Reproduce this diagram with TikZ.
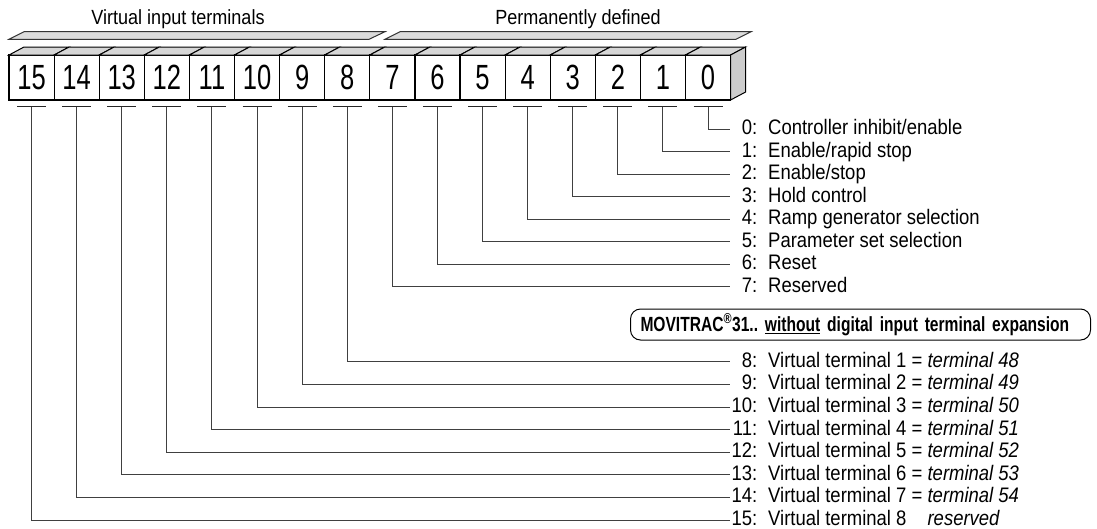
\documentclass[tikz,border=0pt]{standalone}
\usepackage{fontspec}
\newfontfamily\txtfont{Liberation Sans}[FakeStretch=0.88]
\newfontfamily\digfont{Liberation Sans}[FakeStretch=0.73]
\newfontfamily\boldfont{Liberation Sans}[FakeStretch=0.76]
\frenchspacing
\begin{document}
\begin{tikzpicture}[x=1pt,y=-1pt,line join=miter,
  bitbox/.style={draw=black,line width=1.2pt,fill=white,minimum width=45.1pt,
    minimum height=45pt,inner sep=0pt,outer sep=0pt,
    font=\digfont\fontsize{35pt}{35pt}\selectfont},
  topface/.style={draw=black,line width=1pt,fill=black!16},
  sideface/.style={draw=black,line width=1pt,fill=black!20},
  banner/.style={draw=black!80,line width=1pt,fill=black!14},
  stubline/.style={draw=black!85,line width=1.1pt},
  lead/.style={draw=black!75,line width=1pt},
  title/.style={font=\txtfont\fontsize{20.5pt}{22pt}\selectfont,inner sep=0pt,anchor=base},
  lab/.style={font=\txtfont\fontsize{21pt}{22pt}\selectfont,inner sep=0pt,anchor=base west},
  infobox/.style={draw=black,line width=1pt,rounded corners=10pt,anchor=west,
    minimum height=31pt,inner xsep=10pt,inner ysep=0pt,text width=440pt,align=left,
    font=\boldfont\bfseries\fontsize{20.5pt}{22pt}\selectfont}]
\useasboundingbox (0,0) rectangle (1097,528);

% group banners and their headings
\filldraw[banner] (9,39.3) -- (24,31.7) -- (385,31.7) -- (369,39.3) -- cycle;
\filldraw[banner] (385,39.3) -- (400,31.7) -- (751,31.7) -- (736,39.3) -- cycle;
\node[title] (hvirt) at (178,24) {Virtual input terminals};
\node[title] (hperm) at (578,24) {Permanently defined};

% the sixteen bit cells, bit 15 on the left
\foreach \k [evaluate=\k as \bit using int(15-\k)] in {0,...,15} {
  \node[bitbox] (b\bit) at ({9+45.1*\k+22.55},77.5) {\bit};
  \filldraw[topface] (b\bit.north west) -- ++(15,-8)
    -- ([shift={(15,-8)}]b\bit.north east) -- (b\bit.north east) -- cycle;
}
\filldraw[sideface] (b0.north east) -- ++(15,-8) -- ++(0,45) -- (b0.south east) -- cycle;

% row ends of the leader lines
\foreach \b/\y in {0/129.3,1/151.7,2/174.2,3/196.7,4/219.2,5/241.7,6/264.2,7/286.7,
                   8/361.8,9/384.4,10/407.0,11/429.6,12/452.2,13/474.8,14/497.4,15/520.0} {
  \coordinate (e\b) at (730,\y);
  \draw[stubline] ([xshift=-14.5pt,yshift=-6.7pt]b\b.south) -- ([xshift=14.5pt,yshift=-6.7pt]b\b.south);
  \draw[lead] ([yshift=-6.7pt]b\b.south) |- (e\b);
}

% bit descriptions
\newcommand{\num}[1]{\makebox[27pt][r]{#1:}\hspace{11pt}}
\newcommand{\eqterm}[1]{ = \textit{terminal #1}}
\node[lab] (l0)  at ([yshift=-5.5pt]e0)  {\num{0}Controller inhibit/enable};
\node[lab] (l1)  at ([yshift=-5.5pt]e1)  {\num{1}Enable/rapid stop};
\node[lab] (l2)  at ([yshift=-5.5pt]e2)  {\num{2}Enable/stop};
\node[lab] (l3)  at ([yshift=-5.5pt]e3)  {\num{3}Hold control};
\node[lab] (l4)  at ([yshift=-5.5pt]e4)  {\num{4}Ramp generator selection};
\node[lab] (l5)  at ([yshift=-5.5pt]e5)  {\num{5}Parameter set selection};
\node[lab] (l6)  at ([yshift=-5.5pt]e6)  {\num{6}Reset};
\node[lab] (l7)  at ([yshift=-5.5pt]e7)  {\num{7}Reserved};

\node[infobox] (mv) at (630,324.5)
  {MOVITRAC\textsuperscript{\textregistered}31.. \underline{without} digital input terminal expansion};

\node[lab] (l8)  at ([yshift=-5.5pt]e8)  {\num{8}Virtual terminal 1\eqterm{48}};
\node[lab] (l9)  at ([yshift=-5.5pt]e9)  {\num{9}Virtual terminal 2\eqterm{49}};
\node[lab] (l10) at ([yshift=-5.5pt]e10) {\num{10}Virtual terminal 3\eqterm{50}};
\node[lab] (l11) at ([yshift=-5.5pt]e11) {\num{11}Virtual terminal 4\eqterm{51}};
\node[lab] (l12) at ([yshift=-5.5pt]e12) {\num{12}Virtual terminal 5\eqterm{52}};
\node[lab] (l13) at ([yshift=-5.5pt]e13) {\num{13}Virtual terminal 6\eqterm{53}};
\node[lab] (l14) at ([yshift=-5.5pt]e14) {\num{14}Virtual terminal 7\eqterm{54}};
\node[lab] (l15) at ([yshift=-5.5pt]e15) {\num{15}Virtual terminal 8\hphantom{\ =\ }\textit{reserved}};
\end{tikzpicture}
\end{document}
